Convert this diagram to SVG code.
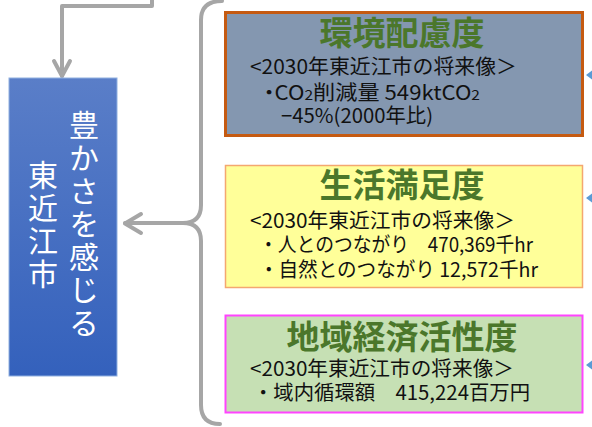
<svg xmlns="http://www.w3.org/2000/svg" width="592" height="427" viewBox="0 0 592 427">
<style>
.conn{fill:none;stroke:#a6a6a6;stroke-width:4;stroke-linecap:round;stroke-linejoin:round}
.title{font-family:"Noto Sans CJK JP","Noto Sans",sans-serif;font-weight:bold;font-size:33px;fill:#4b772b;text-anchor:middle}
.body{font-family:"Noto Sans CJK JP","Noto Sans",sans-serif;font-size:20px;fill:#111}
.vt{font-family:"Noto Sans CJK JP",sans-serif;font-size:30px;fill:#fff;writing-mode:vertical-rl;letter-spacing:3px}
.tri{fill:#5b9bd5}
</style>
<defs>
<linearGradient id="bg" x1="0" y1="0" x2="0" y2="1">
<stop offset="0" stop-color="#5a7ec8"/>
<stop offset="1" stop-color="#3461bc"/>
</linearGradient>
</defs>
<g id="connectors">
<path class="conn" d="M152 -2 V6 H62 V76"/>
<path class="conn" d="M54 61 L62 76 L70 61"/>
<path class="conn" d="M222 1 Q201 1 201 20 V205 Q201 223 183 223 H125"/>
<path class="conn" d="M183 223 Q201 223 201 241 V405 Q201 424 220 424"/>
<path class="conn" d="M141 214 L125 223.5 L141 233"/>
<polygon class="tri" points="586,75 594,69 594,81"/>
<polygon class="tri" points="586,198 594,192 594,204"/>
<polygon class="tri" points="586,365 594,359 594,371"/>
</g>
<g id="city">
<rect x="9" y="78" width="108" height="298" fill="url(#bg)" stroke="#8fb0e0" stroke-width="1"/>
<text class="vt" x="84" y="110">豊かさを感じる</text>
<text class="vt" x="43" y="160">東近江市</text>
</g>
<g id="env">
<rect x="225.5" y="12.5" width="357" height="123" fill="#8497b0" stroke="#c55a11" stroke-width="3"/>
<text class="title" x="402" y="45">環境配慮度</text>
<text class="body" x="250" y="74" textLength="267" lengthAdjust="spacingAndGlyphs">&lt;2030年東近江市の将来像＞</text>
<text class="body" x="258" y="100" textLength="222" lengthAdjust="spacingAndGlyphs">・<tspan dx="-5">CO</tspan><tspan font-size="14">2</tspan>削減量 549ktCO<tspan font-size="14">2</tspan></text>
<text class="body" x="281" y="123" textLength="152" lengthAdjust="spacingAndGlyphs">−45%(2000年比)</text>
</g>
<g id="life">
<rect x="225.5" y="165.5" width="357" height="122" fill="#ffff99" stroke="#f4a770" stroke-width="1.5"/>
<text class="title" x="402" y="197">生活満足度</text>
<text class="body" x="250" y="228" textLength="265" lengthAdjust="spacingAndGlyphs">&lt;2030年東近江市の将来像＞</text>
<text class="body" x="259" y="252" textLength="274" lengthAdjust="spacingAndGlyphs">・人とのつながり　470,369千hr</text>
<text class="body" x="259" y="277" textLength="279" lengthAdjust="spacingAndGlyphs">・自然とのつながり 12,572千hr</text>
</g>
<g id="economy">
<rect x="225.5" y="315.5" width="357" height="97" fill="#c6e0b4" stroke="#ff44ff" stroke-width="2"/>
<text class="title" x="402" y="349">地域経済活性度</text>
<text class="body" x="250" y="376" textLength="264" lengthAdjust="spacingAndGlyphs">&lt;2030年東近江市の将来像＞</text>
<text class="body" x="253" y="400" textLength="277" lengthAdjust="spacingAndGlyphs">・域内循環額　415,224百万円</text>
</g>
</svg>
